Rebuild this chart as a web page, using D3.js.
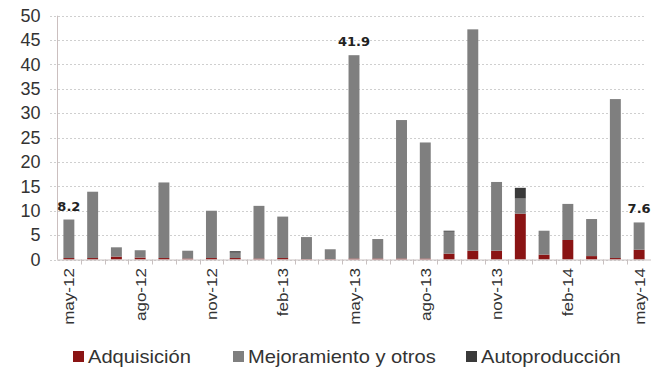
<!DOCTYPE html>
<html>
<head>
<meta charset="utf-8">
<script src="https://cdn.jsdelivr.net/npm/d3@7"></script>
<style>
  html, body { margin: 0; padding: 0; background: #fff; }
  svg { display: block; font-family: "Liberation Sans", Arial, sans-serif; }
</style>
</head>
<body>
<svg id="chart" width="651" height="369"></svg>
<script>
// Monthly categories
const months = ["may-12","jun-12","jul-12","ago-12","sep-12","oct-12","nov-12","dic-12",
  "ene-13","feb-13","mar-13","abr-13","may-13","jun-13","jul-13","ago-13","sep-13","oct-13",
  "nov-13","dic-13","ene-14","feb-14","mar-14","abr-14","may-14"];

// Series values
const adquisicion = [0.3,0.3,0.6,0.4,0.3,0.2,0.3,0.3,0.2,0.3,0.1,0.1,0.2,0.2,0.2,0.2,1.2,1.8,1.8,9.4,1.0,4.0,0.7,0.3,2.0];
const mejoramiento = [7.9,13.6,1.9,1.5,15.5,1.6,9.7,1.1,10.8,8.5,4.5,2.0,41.7,4.0,28.4,23.8,4.5,45.4,14.1,3.1,4.9,7.4,7.6,32.6,5.6];
const autoproduccion = [0,0,0,0,0,0,0,0.3,0,0,0,0,0,0,0,0,0.2,0,0,2.2,0,0,0,0,0];

// Labelled months and axis ticks
const labelledMonths = ["may-12","may-13","may-14"];
const xTickLabels = ["may-12","ago-12","nov-12","feb-13","may-13","ago-13","nov-13","feb-14","may-14"];
const yTicks = [0,5,10,15,20,25,30,35,40,45,50];

const seriesNames = ["Adquisición","Mejoramiento y otros","Autoproducción"];
const seriesKeys = ["adq","mej","auto"];
const colors = ["#8a1414","#7f7f7f","#3a3a3a"];

const rows = months.map((m, i) => ({ month: m, adq: adquisicion[i], mej: mejoramiento[i], auto: autoproduccion[i] }));

const svg = d3.select("#chart");

const x = d3.scaleBand().domain(months).range([57, 651]).paddingInner(0.54).paddingOuter(0.27);
const y = d3.scaleLinear().domain([0, 50]).range([259.5, 15.7]);

// Gridlines
svg.append("g")
  .selectAll("line")
  .data(yTicks)
  .join("line")
  .attr("x1", 50).attr("x2", 646)
  .attr("y1", d => Math.round(y(d)) + 0.5).attr("y2", d => Math.round(y(d)) + 0.5)
  .attr("stroke", "#cfcfcf")
  .attr("stroke-dasharray", "2,2");

// Y axis
const yAxis = svg.append("g")
  .attr("transform", "translate(57.5,0)")
  .call(d3.axisLeft(y).tickValues(yTicks).tickSize(0).tickPadding(17));
yAxis.select(".domain").attr("stroke", "#cbbfbf").attr("d", `M0,${y(50)}V${y(0)}`);
yAxis.selectAll("text").attr("font-size", 18).attr("fill", "#333")
  .attr("font-family", "'Liberation Sans', Arial, sans-serif");

// Stacked bars
const stack = d3.stack().keys(seriesKeys)(rows);
svg.append("g")
  .selectAll("g")
  .data(stack)
  .join("g")
  .attr("fill", (d, i) => colors[i])
  .selectAll("rect")
  .data(d => d)
  .join("rect")
  .attr("x", d => x(d.data.month))
  .attr("width", x.bandwidth())
  .attr("y", d => y(d[1]))
  .attr("height", d => Math.max(0, y(d[0]) - y(d[1])));

// X axis baseline and ticks between categories
const step = x.step();
svg.append("line")
  .attr("x1", 57).attr("x2", 651)
  .attr("y1", y(0) + 0.5).attr("y2", y(0) + 0.5)
  .attr("stroke", "#c8c0c0");
svg.append("g")
  .selectAll("line")
  .data(months.slice(1))
  .join("line")
  .attr("x1", d => Math.round(x(d) - x.paddingInner() * step / 2) + 0.5)
  .attr("x2", d => Math.round(x(d) - x.paddingInner() * step / 2) + 0.5)
  .attr("y1", y(0)).attr("y2", y(0) + 5)
  .attr("stroke", "#c8c0c0");

// X tick labels (rotated)
svg.append("g")
  .selectAll("text")
  .data(xTickLabels)
  .join("text")
  .attr("transform", d => `translate(${x(d) + x.bandwidth() / 2 + 5.5},268) rotate(-90) scale(1.1,1)`)
  .attr("text-anchor", "end")
  .attr("font-size", 15.5)
  .attr("fill", "#333")
  .text(d => d);

// Value labels on selected bars
svg.append("g")
  .selectAll("text")
  .data(rows.filter(r => labelledMonths.includes(r.month)))
  .join("text")
  .attr("x", d => x(d.month) + x.bandwidth() / 2)
  .attr("y", d => y(d.adq + d.mej + d.auto) - 9)
  .attr("text-anchor", "middle")
  .attr("font-family", "'DejaVu Sans', Verdana, sans-serif")
  .attr("font-size", 13)
  .attr("font-weight", "bold")
  .attr("fill", "#222")
  .text(d => d3.format(".1f")(d.adq + d.mej + d.auto));

// Legend
const legendX = [73, 233, 466];
const legend = svg.append("g")
  .selectAll("g")
  .data(seriesNames)
  .join("g")
  .attr("transform", (d, i) => `translate(${legendX[i]},351)`);
legend.append("rect")
  .attr("width", 11).attr("height", 11)
  .attr("fill", (d, i) => colors[i]);
legend.append("text")
  .attr("transform", "translate(15,12) scale(1.15,1)")
  .attr("font-size", 17.5)
  .attr("fill", "#333")
  .text(d => d);
</script>
</body>
</html>
